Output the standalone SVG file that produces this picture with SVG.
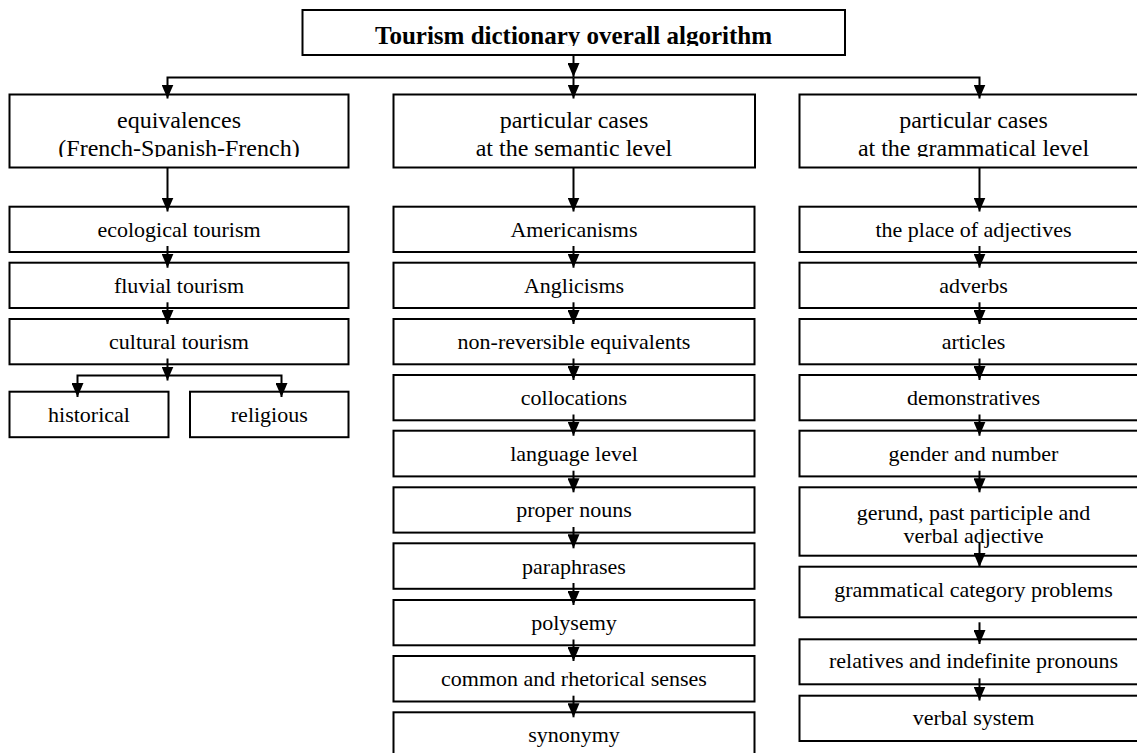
<svg xmlns="http://www.w3.org/2000/svg" width="1137" height="753" viewBox="0 0 1137 753">
<style>
  .box { fill: #fff; stroke: #000; stroke-width: 2; }
  .t { font-family: "Liberation Serif", "Times New Roman", serif; font-size: 22px; text-anchor: middle; fill: #000; }
  .h { font-family: "Liberation Serif", "Times New Roman", serif; font-size: 24px; text-anchor: middle; fill: #000; }
  .title { font-family: "Liberation Serif", "Times New Roman", serif; font-size: 25px; font-weight: bold; text-anchor: middle; fill: #000; }
  .c { fill: none; stroke: #000; stroke-width: 2; marker-end: url(#ah); }
</style>
<defs>
  <marker id="ah" viewBox="0 0 14 12" refX="14" refY="6" markerWidth="14" markerHeight="12" markerUnits="userSpaceOnUse" orient="auto">
    <path d="M0,0 L14,6 L0,12 z" fill="#000"/>
  </marker>
  <clipPath id="clipTitle"><rect x="300" y="8" width="550" height="38"/></clipPath>
  <clipPath id="clipHead"><rect x="0" y="90" width="1137" height="67"/></clipPath>
</defs>
<rect width="1137" height="753" fill="#fff"/>

<g id="n-title">
  <rect class="box" x="302.5" y="10" width="542.5" height="45"/>
  <text class="title" x="573.5" y="43.5" clip-path="url(#clipTitle)">Tourism dictionary overall algorithm</text>
</g>

<g id="n-equiv">
  <rect class="box" x="9.5" y="94.5" width="339" height="73"/>
  <g clip-path="url(#clipHead)">
    <text class="h" x="179" y="128">equivalences</text>
    <text class="h" x="179" y="156">(French-Spanish-French)</text>
  </g>
</g>
<g id="n-semantic">
  <rect class="box" x="393.5" y="94.5" width="361.5" height="73"/>
  <g clip-path="url(#clipHead)">
    <text class="h" x="574" y="128">particular cases</text>
    <text class="h" x="574" y="156">at the semantic level</text>
  </g>
</g>
<g id="n-grammatical">
  <rect class="box" x="799.5" y="94.5" width="348" height="73"/>
  <g clip-path="url(#clipHead)">
    <text class="h" x="973.5" y="128">particular cases</text>
    <text class="h" x="973.5" y="156">at the grammatical level</text>
  </g>
</g>

<!-- left column -->
<g id="n-ecological"><rect class="box" x="9.5" y="206.7" width="339" height="45.3"/><text class="t" x="179" y="236.8">ecological tourism</text></g>
<g id="n-fluvial"><rect class="box" x="9.5" y="262.7" width="339" height="45.3"/><text class="t" x="179" y="292.8">fluvial tourism</text></g>
<g id="n-cultural"><rect class="box" x="9.5" y="319" width="339" height="45.3"/><text class="t" x="179" y="349.1">cultural tourism</text></g>
<g id="n-historical"><rect class="box" x="9.5" y="391.7" width="159" height="45.5"/><text class="t" x="89" y="421.8">historical</text></g>
<g id="n-religious"><rect class="box" x="190" y="391.7" width="158.5" height="45.5"/><text class="t" x="269.3" y="421.8">religious</text></g>

<!-- middle column -->
<g id="n-americanisms"><rect class="box" x="393.5" y="206.7" width="361" height="45.3"/><text class="t" x="574" y="236.8">Americanisms</text></g>
<g id="n-anglicisms"><rect class="box" x="393.5" y="262.7" width="361" height="45.3"/><text class="t" x="574" y="292.8">Anglicisms</text></g>
<g id="n-nonrev"><rect class="box" x="393.5" y="319" width="361" height="45.3"/><text class="t" x="574" y="349.1">non-reversible equivalents</text></g>
<g id="n-collocations"><rect class="box" x="393.5" y="375" width="361" height="45.3"/><text class="t" x="574" y="405.1">collocations</text></g>
<g id="n-language"><rect class="box" x="393.5" y="430.7" width="361" height="45.7"/><text class="t" x="574" y="461">language level</text></g>
<g id="n-proper"><rect class="box" x="393.5" y="487.3" width="361" height="45.3"/><text class="t" x="574" y="517.4">proper nouns</text></g>
<g id="n-paraphrases"><rect class="box" x="393.5" y="543.3" width="361" height="45.5"/><text class="t" x="574" y="573.5">paraphrases</text></g>
<g id="n-polysemy"><rect class="box" x="393.5" y="600" width="361" height="45.3"/><text class="t" x="574" y="630.1">polysemy</text></g>
<g id="n-common"><rect class="box" x="393.5" y="656" width="361" height="45.5"/><text class="t" x="574" y="686.2">common and rhetorical senses</text></g>
<g id="n-synonymy"><rect class="box" x="393.5" y="712.3" width="361" height="50"/><text class="t" x="574" y="741.7">synonymy</text></g>

<!-- right column -->
<g id="n-place"><rect class="box" x="799.5" y="206.7" width="348" height="45.3"/><text class="t" x="973.5" y="236.8">the place of adjectives</text></g>
<g id="n-adverbs"><rect class="box" x="799.5" y="262.7" width="348" height="45.3"/><text class="t" x="973.5" y="292.8">adverbs</text></g>
<g id="n-articles"><rect class="box" x="799.5" y="319" width="348" height="45.3"/><text class="t" x="973.5" y="349.1">articles</text></g>
<g id="n-demonstratives"><rect class="box" x="799.5" y="375" width="348" height="45.3"/><text class="t" x="973.5" y="405.1">demonstratives</text></g>
<g id="n-gender"><rect class="box" x="799.5" y="430.7" width="348" height="45.7"/><text class="t" x="973.5" y="461">gender and number</text></g>
<g id="n-gerund"><rect class="box" x="799.5" y="487.3" width="348" height="68.4"/><text class="t" x="973.5" y="520">gerund, past participle and</text><text class="t" x="973.5" y="542.7">verbal adjective</text></g>
<g id="n-category"><rect class="box" x="799.5" y="566.7" width="348" height="50.6"/><text class="t" x="973.5" y="596.7">grammatical category problems</text></g>
<g id="n-relatives"><rect class="box" x="799.5" y="639.3" width="348" height="45"/><text class="t" x="973.5" y="668.3">relatives and indefinite pronouns</text></g>
<g id="n-verbal"><rect class="box" x="799.5" y="695.7" width="348" height="45.3"/><text class="t" x="973.5" y="725">verbal system</text></g>

<g id="connectors">
  <path class="c" d="M573.5,55 V77"/>
  <path class="c" d="M573.5,77.5 V98.5"/>
  <path class="c" d="M573.5,77.5 H167.5 V98.5"/>
  <path class="c" d="M573.5,77.5 H979.5 V98.5"/>

  <path class="c" d="M167.5,167.5 V211.5"/>
  <path class="c" d="M573.5,167.5 V211.5"/>
  <path class="c" d="M979.5,167.5 V211.5"/>

  <path class="c" d="M167.5,246 V267.7"/>
  <path class="c" d="M167.5,302.3 V324"/>
  <path class="c" d="M167.5,358.5 V380.5"/>
  <path class="c" d="M167.5,375.5 H77.5 V397"/>
  <path class="c" d="M167.5,375.5 H281.5 V397"/>

  <path class="c" d="M573.5,246 V267.7"/>
  <path class="c" d="M573.5,302.3 V324"/>
  <path class="c" d="M573.5,358.5 V380"/>
  <path class="c" d="M573.5,414.5 V435.7"/>
  <path class="c" d="M573.5,470.7 V492.3"/>
  <path class="c" d="M573.5,527 V548.3"/>
  <path class="c" d="M573.5,583 V605"/>
  <path class="c" d="M573.5,639.5 V661"/>
  <path class="c" d="M573.5,695.7 V717.3"/>

  <path class="c" d="M979.5,246 V267.7"/>
  <path class="c" d="M979.5,302.3 V324"/>
  <path class="c" d="M979.5,358.5 V380"/>
  <path class="c" d="M979.5,414.5 V435.7"/>
  <path class="c" d="M979.5,470.7 V492.3"/>
  <path class="c" d="M979.5,543 V567"/>
  <path class="c" d="M979.5,622.3 V644"/>
  <path class="c" d="M979.5,678.3 V700.5"/>
</g>
</svg>
